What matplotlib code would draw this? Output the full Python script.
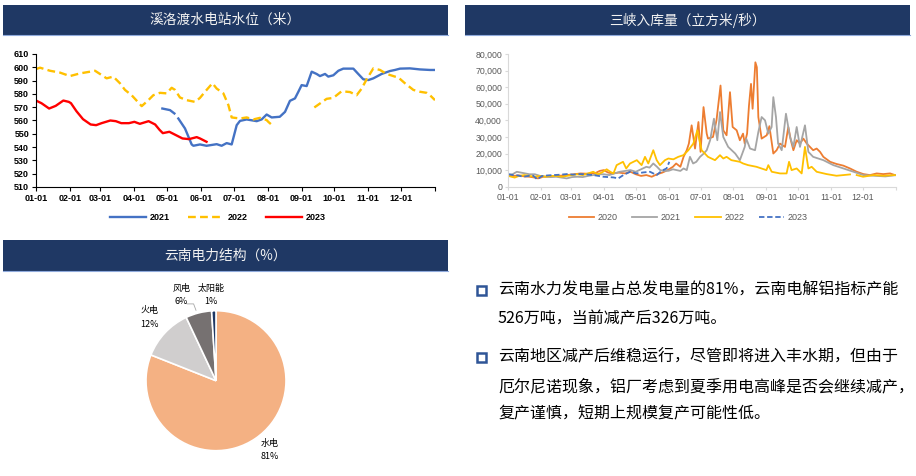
import matplotlib
matplotlib.use("Agg")
import matplotlib.pyplot as plt
import numpy as np
from matplotlib.patches import Rectangle
from matplotlib.lines import Line2D
from matplotlib.ticker import FuncFormatter

plt.rcParams['font.family'] = ['Liberation Sans', 'Noto Sans CJK SC', 'DejaVu Sans']
CJK = ['Noto Sans CJK SC', 'DejaVu Sans']

W, H = 916, 476

# ---------------- data ----------------
month_days = [0, 31, 59, 90, 120, 151, 181, 212, 243, 273, 304, 334, 365]
month_labels = ["01-01", "02-01", "03-01", "04-01", "05-01", "06-01",
                "07-01", "08-01", "09-01", "10-01", "11-01", "12-01", ""]

# 溪洛渡水电站水位（米）
xld_2021_day = [115.6, 122.6, 126.6, np.nan, 130.2, 136.3, 142.4, 144, 150, 156, 165.3, 169.8, 174.4, 179,
                183.6, 186.6, 192.7, 201.9, 206.4, 211, 215.6, 223, 227.8, 232.3, 236.9, 240, 243,
                247.6, 252.2, 256.7, 259.8, 264.4, 267.4, 272, 276.6, 281.1, 290.3, 294.8, 299.4,
                304, 308.6, 316.2, 323.8, 328.4, 333, 342, 351.3, 360.4, 365]
xld_2021_val = [569, 567.8, 565.3, np.nan, 561.5, 554, 542, 541, 542, 541, 542.2, 541, 543, 542,
                556.5, 559.7, 560.8, 559.5, 560.8, 564.5, 562.3, 562.8, 566.5, 574.8, 576.6, 581.6, 586.6,
                585.9, 596.7, 595, 593.4, 595, 593, 594, 597.4, 599, 599, 595, 591,
                590.4, 591.7, 595, 597.2, 598, 599, 599.2, 598.4, 598, 598]

xld_2022_day = [0, 3.7, 12.8, 22, 31, 40.2, 49.4, 54, 58.5, 64.6, 70.7, 76.8, 81.4, 87.5, 96.7, 102.8,
                107.3, 113.4, 119.5, 124.1, 127.2, 131.7, 137.8, 145.5, 150, 154.6, 161.4, 165.3,
                171.4, 176, 179, 186.6, 192.7, 198.8, 204.9, 211, 212.5, 217.1, np.nan,
                254.6, 259.8, 265.9, 272, 279.6, 287.2, 293.3, 297.9, 302.5, 308.6, 314.7, 320.8,
                328.4, 331.4, 337.5, 345.2, 351.3, 357.4, 360.4, 365]
xld_2022_val = [598.7, 599.7, 597.4, 596, 593.4, 595.4, 596.7, 597.4, 595, 591.7, 593, 588, 583, 579,
                570.8, 575.3, 579, 580.8, 580.4, 584.6, 583, 577.3, 575.3, 574, 577, 581.6, 588, 584,
                580.4, 571.6, 562.3, 561.5, 562.3, 560.8, 562, 560.3, 559, 555.7, np.nan,
                569.8, 572.8, 576.3, 577, 582, 581.4, 579, 584, 591, 599.2, 598, 595,
                593, 592.4, 588, 583, 581.6, 580.8, 579, 575.3]

xld_2023_day = [0, 5, 12, 18, 25, 30, 32, 37, 43, 50, 55, 60, 64, 68, 73, 78, 85, 90, 95, 103,
                109, 113, 116, 122, 128, 134, 140, 147, 150, 156]
xld_2023_val = [575, 573, 569, 571, 575, 574, 573, 567, 561, 557, 556.5, 558, 559, 560, 559.5, 558,
                558, 559, 557.5, 559.5, 557, 553, 550.5, 551.5, 549, 546.5, 546, 547.5, 546.5, 544]

# 三峡入库量（立方米/秒）
sx_2020_day = [0, 5, 10, 15, 20, 25, 28, 33, 40, 47, 55, 62, 68, 75, 82, 86, 90, 94, 98, 104, 110,
               115, 120, 125, 130, 135, 140, 145, 150, 155, 158, 162, 165, 168, 170, 172.6, 175.8,
               179, 181, 183.8, 186.8, 188, 192.7, 196, 199.8, 202.4, 205.5, 208.7, 211.2, 215,
               218, 221, 222.6, 224.8, 226.6, 228.5, 230, 232.6, 234, 235.4, 238.5, 243.3, 245.8,
               249.5, 252.6, 255.8, 260.5, 263.6, 266, 268.4, 271.5, 274.6, 277.8, 281, 284, 287,
               290.3, 293.5, 296.6, 303, 309, 315.4, 321.7, 328, 334.3, 340.5, 346.8, 353, 359.4, 364]
sx_2020_val = [7000, 6500, 6800, 6200, 6000, 5500, 5000, 6000, 6200, 6500, 7000, 7500, 8000, 7800,
               8200, 9500, 10000, 8500, 8000, 8500, 8000, 9000, 7500, 6500, 7000, 6000, 7500, 8500,
               10000, 12000, 14000, 12000, 18000, 22000, 26000, 37000, 23000, 39000, 21000, 48000,
               32000, 29000, 30000, 40000, 61000, 34000, 31000, 57000, 36000, 34000, 28000, 32000,
               26000, 32000, 49000, 62000, 47000, 75000, 72000, 42000, 29000, 31000, 36500, 20000,
               22000, 26000, 24000, 36000, 28000, 22000, 28000, 26000, 29000, 26000, 24000, 22000,
               23000, 21000, 18000, 15000, 13700, 12700, 11000, 9000, 7600, 7000, 8000, 7600, 8000, 7000]

sx_2021_day = [0, 4, 8, 12, 16, 20, 25, 30, 35, 40, 45, 50, 55, 60, 65, 70, 75, 80, 85, 90, 95, 100,
               105, 110, 115, 120, 125, 130, 133, 136.5, 140, 143, 147, 151, 155, 158.5, 162, 165,
               168, 171, 174, 177, 180.5, 184, 186.8, 190, 193.6, 196.8, 199.3, 202.4, 207, 213.6,
               218, 222.6, 224, 227.6, 232.3, 235.4, 238.5, 241.7, 244.8, 247.9, 249.5, 252, 254,
               257.4, 261.4, 265.2, 268.4, 271.5, 274.6, 279.3, 282.5, 287, 296.6, 306, 315.5, 325,
               334.3, 346.8, 355, 365]
sx_2021_val = [7000, 7500, 9000, 8500, 8000, 7500, 7500, 6500, 6000, 5800, 6000, 5500, 5000, 5800,
               6000, 5800, 6500, 7000, 7500, 7500, 7000, 8000, 9000, 9500, 10000, 9000, 10500, 12000,
               11500, 14000, 12000, 10000, 9500, 9600, 10500, 10000, 9500, 11000, 10000, 18000, 14000,
               15000, 18000, 20000, 22000, 28000, 41000, 28000, 45000, 30000, 24000, 20000, 16000,
               24000, 29000, 23000, 22000, 33000, 42000, 40000, 32000, 36000, 54000, 42000, 26000,
               22000, 44000, 30000, 24000, 36000, 24000, 37000, 21000, 18000, 16000, 13000, 11000,
               9000, 7000, 6500, 6200, 7000]

sx_2022_day = [0, 3, 6, 10, 15, 20, 25, 30, 35, 40, 45, 50, 55, 60, 65, 70, 75, 80, 84, 88, 92.6, 96,
               99, 102, 108, 111, 114.6, 121, 125.5, 128.7, 131.8, 136.5, 139.7, 142.8, 147.5, 150.7,
               155.4, 160, 164.8, 169.5, 174.2, 178, 182, 188, 194.6, 199.3, 202.4, 205.5, 210, 218,
               221, 225.8, 233.6, 243, 244.8, 248, 255.8, 262, 264.3, 266.7, 271.5, 276.2, 279.3,
               282.5, 285.6, 290.3, 299.7, 309, 321.7, np.nan, 328, 334, 343.7, 353, 364]
sx_2022_val = [6500, 6000, 5500, 6500, 7000, 6500, 6000, 6500, 6000, 6500, 6500, 6000, 6500, 7000,
               7500, 7000, 8000, 9000, 7500, 8500, 10500, 9000, 8000, 13000, 15000, 11000, 14000,
               16000, 13000, 18000, 14000, 22000, 16000, 13000, 16000, 17000, 16500, 18000, 19000,
               22000, 26000, 34000, 22000, 18000, 16000, 19000, 17000, 18000, 16000, 15000, 14000,
               13000, 12000, 10000, 13000, 9000, 8000, 8000, 15000, 10000, 11000, 8000, 24000, 11000,
               12000, 9000, 7600, 6600, 7400, np.nan, 7000, 6000, 7000, 6600, 7000]

sx_2023_day = [0, 4.7, 9, 14, 19, 23.5, 27.3, 31.4, 37, 42.4, 48, 55, 61, 67.5, 74, 80, 85, 89.5,
               94, 98.9, 103.6, 108.3, 114.6, 120.8, 127, 133.4, 139.7, 144.4, 149, 151.6]
sx_2023_val = [7600, 7000, 6800, 6000, 6500, 6600, 4400, 6400, 6800, 7000, 7200, 7600, 7300, 7600,
               7400, 7000, 6500, 6000, 5800, 5600, 5000, 7000, 9000, 8000, 8600, 9000, 7000, 9600,
               11000, 15000]

# 云南电力结构（%）
pie_labels = ["水电", "火电", "风电", "太阳能"]
pie_values = [81, 12, 6, 1]
pie_colors = ["#F4B183", "#D0CECE", "#767171", "#1F3864"]

bullet_lines = [
    ["云南水力发电量占总发电量的81%，云南电解铝指标产能",
     "526万吨，当前减产后326万吨。"],
    ["云南地区减产后维稳运行，尽管即将进入丰水期，但由于",
     "厄尔尼诺现象，铝厂考虑到夏季用电高峰是否会继续减产，",
     "复产谨慎，短期上规模复产可能性低。"],
]

# ---------------- helpers ----------------
def fbox(x0, y0, x1, y1):
    return [x0 / W, 1 - y1 / H, (x1 - x0) / W, (y1 - y0) / H]

fig = plt.figure(figsize=(W / 100, H / 100), dpi=100)
fig.patch.set_facecolor("white")

NAVY = "#1F3864"

def header(x0, y0, x1, y1, title):
    fig.add_artist(Rectangle((x0 / W, 1 - y1 / H), (x1 - x0) / W, (y1 - y0) / H,
                             transform=fig.transFigure, facecolor=NAVY, edgecolor="none"))
    fig.add_artist(Line2D([x0 / W, x1 / W], [1 - y1 / H, 1 - y1 / H], transform=fig.transFigure,
                          color="#8FAADC", lw=0.8))
    fig.text((x0 + x1) / 2 / W, 1 - (y0 + y1) / 2 / H, title, color="#F2F2F2", fontsize=9.9,
             ha="center", va="center", family=CJK)

header(3, 5, 448, 35, "溪洛渡水电站水位（米）")
header(465, 5, 910, 35, "三峡入库量（立方米/秒）")
header(3, 240, 448, 271, "云南电力结构（%）")

# ---------------- left line chart ----------------
ax1 = fig.add_axes(fbox(36, 54, 435, 187))
ax1.plot(xld_2021_day, xld_2021_val, color="#4472C4", lw=1.7, label="2021")
ax1.plot(xld_2022_day, xld_2022_val, color="#FFC000", lw=1.7, dashes=(3.3, 1.8), label="2022")
ax1.plot(xld_2023_day, xld_2023_val, color="#FF0000", lw=1.7, label="2023")
ax1.set_xlim(0, 365)
ax1.set_ylim(510, 610)
ax1.set_yticks(np.arange(510, 611, 10))
ax1.set_xticks(month_days)
ax1.set_xticklabels(month_labels)
for s in ["top", "right"]:
    ax1.spines[s].set_visible(False)
for s in ["left", "bottom"]:
    ax1.spines[s].set_color("#000000")
    ax1.spines[s].set_linewidth(0.8)
ax1.tick_params(axis="both", labelsize=6.5, length=3, width=0.8, colors="#000000", pad=2)
for lab in ax1.get_xticklabels() + ax1.get_yticklabels():
    lab.set_fontweight("bold")
leg1 = fig.legend(*ax1.get_legend_handles_labels(), loc="center", bbox_to_anchor=(218 / W, 1 - 218 / H),
                  ncol=3, frameon=False, fontsize=6.5, handlelength=4.0, columnspacing=2.0,
                  handletextpad=0.4)
for t in leg1.get_texts():
    t.set_fontweight("bold")

# ---------------- right line chart ----------------
ax2 = fig.add_axes(fbox(508.3, 54, 896, 186.7))
ax2.plot(sx_2020_day, sx_2020_val, color="#ED7D31", lw=1.3, label="2020")
ax2.plot(sx_2021_day, sx_2021_val, color="#A5A5A5", lw=1.3, label="2021")
ax2.plot(sx_2022_day, sx_2022_val, color="#FFC000", lw=1.3, label="2022")
ax2.plot(sx_2023_day, sx_2023_val, color="#4472C4", lw=1.3, dashes=(3, 1.5), label="2023")
ax2.set_xlim(0, 365)
ax2.set_ylim(0, 80000)
ax2.set_yticks(np.arange(0, 80001, 10000))
ax2.yaxis.set_major_formatter(FuncFormatter(lambda v, p: f"{int(v):,}"))
ax2.set_xticks(month_days)
ax2.set_xticklabels(month_labels)
for s in ["top", "right"]:
    ax2.spines[s].set_visible(False)
for s in ["left", "bottom"]:
    ax2.spines[s].set_color("#D9D9D9")
    ax2.spines[s].set_linewidth(0.8)
ax2.tick_params(axis="both", labelsize=6.3, length=2.5, width=0.8, colors="#D9D9D9",
                labelcolor="#595959", pad=2)
fig.legend(*ax2.get_legend_handles_labels(), loc="center", bbox_to_anchor=(688 / W, 1 - 218 / H),
           ncol=4, frameon=False, fontsize=6.5, handlelength=2.8, columnspacing=1.6,
           handletextpad=0.4, labelcolor="#595959")

# ---------------- pie ----------------
cx, cy, R = 216, 380.7, 70
ax3 = fig.add_axes(fbox(cx - 80, cy - 80, cx + 80, cy + 80))
ax3.pie(pie_values, colors=pie_colors, startangle=90, counterclock=False, radius=R / 80,
        wedgeprops=dict(edgecolor="white", linewidth=1.2))
ax3.set_xlim(-1, 1)
ax3.set_ylim(-1, 1)
ax3.set_aspect("equal")
ax3.axis("off")
label_pos = [(0.675, -0.866), (-0.834, 0.79), (-0.43, 1.067), (-0.0625, 1.07)]
for lab, v, (lx, ly) in zip(pie_labels, pie_values, label_pos):
    ax3.text(lx, ly, f"{lab}\n{v}%", ha="center", va="center", fontsize=6.5, color="#000000",
             family=CJK, linespacing=1.6, clip_on=False)
ax3.plot([-0.36, -0.28, -0.25], [0.96, 0.96, 0.88], color="#A6A6A6", lw=0.6, clip_on=False)

# ---------------- bullet text ----------------
line_y = [[290, 319.3], [357.3, 386.7, 414.3]]
for lines, ys in zip(bullet_lines, line_y):
    fig.add_artist(Rectangle(((482 - 4.5) / W, 1 - (ys[0] + 4.5) / H), 9 / W, 9 / H,
                             transform=fig.transFigure, facecolor="white", edgecolor="#2F5597",
                             linewidth=1.8))
    for txt, y in zip(lines, ys):
        fig.text(498 / W, 1 - y / H, txt, fontsize=11.5, ha="left", va="center", color="#000000",
                 family=CJK)

fig.savefig("out.png", dpi=100, facecolor="white")
